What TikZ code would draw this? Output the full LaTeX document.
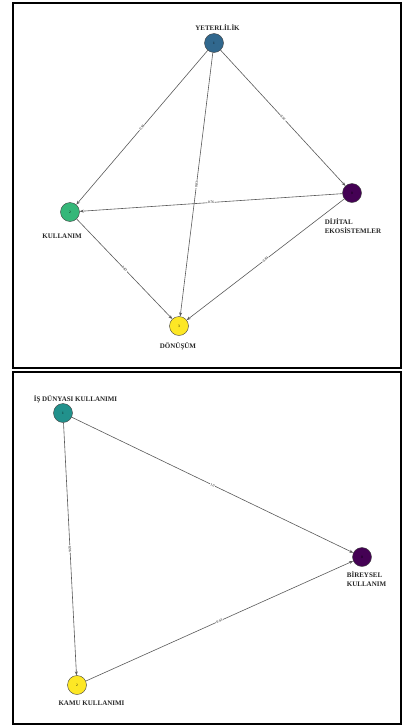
\documentclass[tikz,border=0pt]{standalone}
\usepackage{fontspec}
\setmainfont{Liberation Serif}
\usetikzlibrary{positioning,arrows.meta}

\definecolor{vblue}{HTML}{31688E}
\definecolor{vgreen}{HTML}{35B779}
\definecolor{vteal}{HTML}{21918C}
\definecolor{vpurple}{HTML}{440154}
\definecolor{vyellow}{HTML}{FDE725}

\tikzset{
  vertex/.style={draw=black!75, line width=0.4pt, circle, minimum size=19pt, inner sep=0pt, font=\fontsize{3.5}{3.5}\selectfont},
  lbl/.style={inner sep=0pt, font=\fontsize{7}{9}\selectfont\bfseries, text=black!85},
  elbl/.style={fill=white, inner sep=0.6pt, font=\fontsize{3.5}{3.5}\selectfont, sloped, midway},
  edge/.style={draw=black!65, line width=0.6pt, -{Stealth[length=4pt,width=3pt]}},
  frame/.style={draw=black, line width=1.5pt}
}

\begin{document}
\begin{tikzpicture}[x=1pt, y=-1pt]
  \useasboundingbox (0,0) rectangle (403,726);
  \draw[frame] (13,3) rectangle (401,368);
  \draw[frame] (13,372) rectangle (401,724);

  \node[vertex, fill=vblue] (yet) at (214,43) {1};
  \node[vertex, fill=vgreen] (kull) at (70,212) {2};
  \node[vertex, fill=vpurple] (dij) at (352,193) {0};
  \node[vertex, fill=vyellow] (don) at (179,326) {3};

  \node[lbl, above=3pt of yet, xshift=3.5pt] (yetlbl) {YETERLİLİK};
  \node[lbl, below=12pt of kull, xshift=-8pt] (kulllbl) {KULLANIM};
  \node[lbl, below=16pt of dij, xshift=1pt, align=left] (dijlbl) {DİJİTAL\\EKOSİSTEMLER};
  \node[lbl, below=7pt of don, xshift=-1pt] (donlbl) {DÖNÜŞÜM};

  \draw[edge] (yet) -- node[elbl] {0.94} (kull);
  \draw[edge] (yet) -- node[elbl] {0.91} (dij);
  \draw[edge] (yet) -- node[elbl] {0.83} (don);
  \draw[edge] (dij) -- node[elbl] {0.76} (kull);
  \draw[edge] (kull) -- node[elbl] {0.83} (don);
  \draw[edge] (dij) -- node[elbl] {0.84} (don);

  \node[vertex, fill=vteal] (is) at (63,413) {1};
  \node[vertex, fill=vpurple] (bir) at (362,557) {0};
  \node[vertex, fill=vyellow] (kamu) at (77,685) {2};

  \node[lbl, above=0pt of is, xshift=12.5pt] (islbl) {İŞ DÜNYASI KULLANIMI};
  \node[lbl, below=5pt of bir, xshift=4.5pt, align=left] (birlbl) {BİREYSEL\\KULLANIM};
  \node[lbl, below=6pt of kamu, xshift=14.5pt] (kamulbl) {KAMU KULLANIMI};

  \draw[edge] (is) -- node[elbl] {1.0} (bir);
  \draw[edge] (is) -- node[elbl] {0.96} (kamu);
  \draw[edge] (kamu) -- node[elbl] {0.93} (bir);
\end{tikzpicture}
\end{document}
